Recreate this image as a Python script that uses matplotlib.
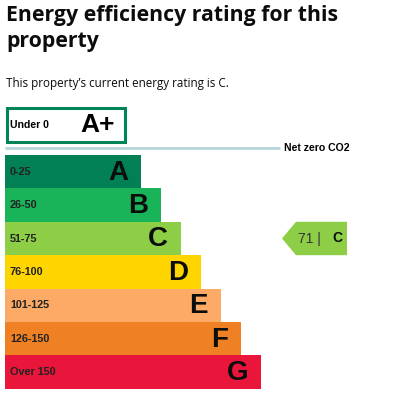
import matplotlib
matplotlib.use('Agg')
import matplotlib.pyplot as plt
from matplotlib.patches import Rectangle, Polygon

# rating bands
bands = ['A', 'B', 'C', 'D', 'E', 'F', 'G']
ranges = ['0-25', '26-50', '51-75', '76-100', '101-125', '126-150', 'Over 150']
colors = ['#008054', '#19b459', '#8dce46', '#ffd500', '#fcaa65', '#ef8023', '#e9153b']
top_band = 'A+'
top_range = 'Under 0'
current_score = 71
current_band = 'C'

fig = plt.figure(figsize=(3.97, 4.0), dpi=100)
ax = fig.add_axes([0, 0, 1, 1])
ax.set_xlim(0, 397)
ax.set_ylim(400, 0)
ax.axis('off')

title_font = 'Open Sans'
bar_font = 'Liberation Sans'

fig.text(6 / 397, 1 - 15 / 400, 'Energy efficiency rating for this', fontsize=15.3,
         fontweight='bold', family=title_font, color='#0b0c0c', va='center')
fig.text(6 / 397, 1 - 42 / 400, 'property', fontsize=15.3,
         fontweight='bold', family=title_font, color='#0b0c0c', va='center')
fig.text(6 / 397, 1 - 83 / 400, "This property\u2019s current energy rating is C.", fontsize=8.35,
         family=title_font, color='#0b0c0c', va='center')

# A+ box
ax.add_patch(Rectangle((6.5, 108), 118, 34, facecolor='white', edgecolor='#00855a', linewidth=2.2))
ax.text(10, 125, top_range, fontsize=7.6, fontweight='bold', family=bar_font, va='center')
ax.text(115, 125, top_band, fontsize=19, fontweight='bold', family=bar_font, va='center', ha='right')

# net zero line
ax.plot([5, 280], [148, 148], color='#b8d6da', linewidth=2, solid_capstyle='butt')
ax.text(284, 148, 'Net zero CO2', fontsize=7.6, fontweight='bold', family=bar_font, va='center')

# bars
bar_h = 33.4
y0 = 155
for i, (b, r, c) in enumerate(zip(bands, ranges, colors)):
    yc = y0 + bar_h * (i + 0.5)
    w = 136 + 20 * i
    ax.barh(yc, w, left=5, height=bar_h, color=c, edgecolor='none')
    ax.text(10, yc, r, fontsize=7.8, fontweight='bold', family=bar_font, va='center', color='#222222')
    ax.text(5 + w - 13, yc + 1, b, fontsize=20, fontweight='bold', family=bar_font,
            va='center', ha='right', color='#0b0c0c')

# current rating arrow
ci = bands.index(current_band)
top = y0 + bar_h * ci
bot = top + bar_h
mid = (top + bot) / 2
ax.add_patch(Polygon([(282, mid), (296, top), (347, top), (347, bot), (296, bot)],
                     closed=True, facecolor=colors[ci], edgecolor='none'))
ax.text(298, mid, f'{current_score} |', fontsize=10, family=bar_font, va='center', color='#333333')
ax.text(332, mid, current_band, fontsize=10, fontweight='bold', family=bar_font, va='center', color='#0b0c0c')

fig.savefig('out.png', dpi=100)
